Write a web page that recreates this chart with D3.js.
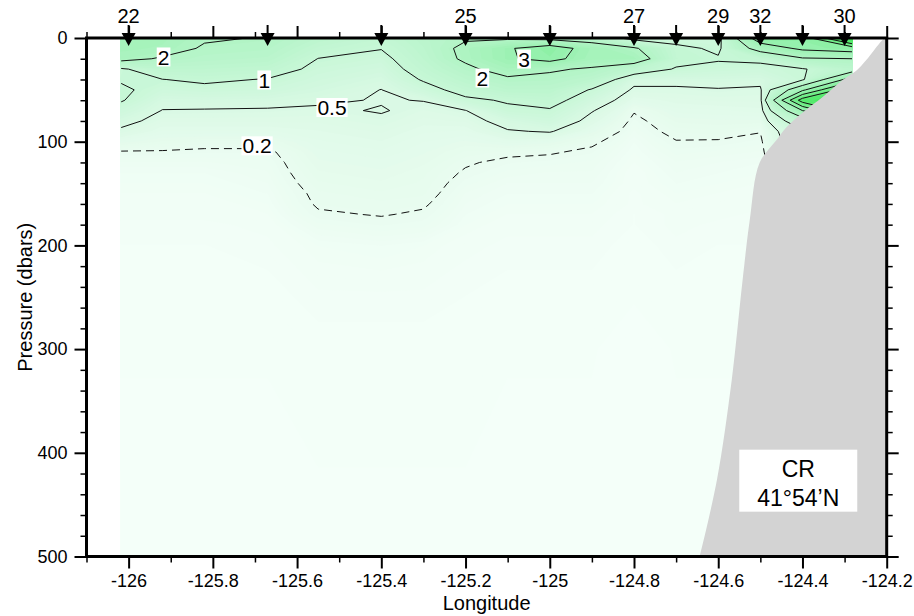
<!DOCTYPE html>
<html>
<head>
<meta charset="utf-8">
<script src="https://cdn.jsdelivr.net/npm/d3@7"></script>
<style>
  body { margin: 0; background: #fff; }
  svg { display: block; }
  text { font-family: "Liberation Sans", Arial, Helvetica, sans-serif; fill: #000; }
</style>
</head>
<body>
<svg id="chart"></svg>
<script>
const w = 914;
const h = 616;

// grid columns (longitude) and rows (pressure, dbar)
const lons = [-126.02, -125.92, -125.82, -125.67, -125.55, -125.4, -125.3, -125.2, -125.1,
              -125.0, -124.9, -124.8, -124.7, -124.6, -124.5, -124.4, -124.28];
const pressures = [0, 10, 20, 30, 40, 50, 60, 70, 80, 90, 100, 110, 120, 130, 140, 150, 160, 170, 180, 200, 250, 300, 500];

// one profile per longitude, top to bottom
const profiles = [
  [2.6, 2.5, 2.3, 0.9, 0.95, 1.1, 1.05, 0.8, 0.6, 0.45, 0.3, 0.19, 0.15, 0.13, 0.12, 0.11, 0.1, 0.1, 0.09, 0.08, 0.07, 0.06, 0.05],
  [2.5, 2.4, 1.9, 1.4, 0.99, 0.8, 0.6, 0.49, 0.4, 0.33, 0.26, 0.19, 0.15, 0.13, 0.12, 0.11, 0.1, 0.1, 0.09, 0.08, 0.07, 0.06, 0.05],
  [2.1, 1.9, 1.7, 1.4, 1.1, 0.85, 0.62, 0.48, 0.4, 0.33, 0.24, 0.18, 0.15, 0.13, 0.12, 0.11, 0.1, 0.1, 0.09, 0.08, 0.07, 0.06, 0.05],
  [1.95, 1.8, 1.6, 1.3, 0.97, 0.8, 0.6, 0.47, 0.4, 0.33, 0.24, 0.18, 0.16, 0.15, 0.14, 0.13, 0.12, 0.11, 0.1, 0.09, 0.07, 0.06, 0.05],
  [1.5, 1.25, 0.99, 0.85, 0.75, 0.65, 0.55, 0.45, 0.4, 0.36, 0.33, 0.3, 0.28, 0.26, 0.24, 0.22, 0.21, 0.19, 0.16, 0.12, 0.09, 0.07, 0.05],
  [1.2, 1.02, 0.85, 0.72, 0.6, 0.495, 0.48, 0.52, 0.45, 0.4, 0.36, 0.33, 0.3, 0.28, 0.26, 0.24, 0.22, 0.205, 0.18, 0.13, 0.09, 0.07, 0.05],
  [1.6, 1.5, 1.4, 1.25, 1.05, 0.8, 0.51, 0.42, 0.38, 0.34, 0.31, 0.29, 0.27, 0.25, 0.24, 0.23, 0.21, 0.19, 0.17, 0.12, 0.09, 0.07, 0.05],
  [1.9, 2.2, 2.15, 1.8, 1.5, 1.2, 0.9, 0.49, 0.4, 0.33, 0.28, 0.24, 0.21, 0.19, 0.17, 0.15, 0.14, 0.13, 0.12, 0.1, 0.08, 0.07, 0.05],
  [1.85, 2.9, 2.9, 2.4, 1.85, 1.5, 1.05, 0.9, 0.6, 0.48, 0.33, 0.22, 0.18, 0.16, 0.14, 0.13, 0.12, 0.11, 0.1, 0.09, 0.07, 0.06, 0.05],
  [1.7, 3.5, 3.3, 2.1, 1.8, 1.5, 1.2, 0.95, 0.75, 0.52, 0.3, 0.21, 0.17, 0.15, 0.14, 0.13, 0.12, 0.11, 0.1, 0.09, 0.07, 0.06, 0.05],
  [1.5, 2.6, 2.5, 1.9, 1.5, 0.95, 0.7, 0.52, 0.4, 0.3, 0.22, 0.18, 0.16, 0.15, 0.14, 0.13, 0.12, 0.11, 0.1, 0.09, 0.07, 0.06, 0.05],
  [0.75, 2.1, 2.5, 1.4, 0.6, 0.45, 0.33, 0.21, 0.17, 0.15, 0.13, 0.12, 0.11, 0.1, 0.1, 0.09, 0.09, 0.08, 0.08, 0.07, 0.06, 0.05, 0.05],
  [0.75, 1.15, 1.2, 0.95, 0.6, 0.45, 0.38, 0.32, 0.27, 0.23, 0.195, 0.17, 0.15, 0.14, 0.13, 0.12, 0.11, 0.1, 0.1, 0.09, 0.07, 0.06, 0.05],
  [0.8, 0.9, 1.05, 0.85, 0.62, 0.48, 0.4, 0.33, 0.28, 0.24, 0.19, 0.16, 0.14, 0.13, 0.12, 0.11, 0.1, 0.1, 0.09, 0.08, 0.07, 0.06, 0.05],
  [3.6, 2.4, 1.15, 0.8, 0.6, 0.45, 0.4, 0.35, 0.28, 0.205, 0.17, 0.15, 0.13, 0.12, 0.11, 0.1, 0.1, 0.09, 0.09, 0.08, 0.07, 0.06, 0.05],
  [3.4, 3.2, 1.9, 0.95, 0.9, 2.8, 5.5, 3.0, 1.5, 0.9, 0.8, 0.7, 0.6, 0.5, 0.45, 0.4, 0.35, 0.3, 0.3, 0.25, 0.2, 0.15, 0.1],
  [7, 3.5, 2.0, 1.5, 3.5, 6, 7, 6, 3, 1.5, 1, 0.8, 0.6, 0.5, 0.45, 0.4, 0.35, 0.3, 0.3, 0.25, 0.2, 0.15, 0.1]
];

const lineLevels = [0.2, 0.5, 1, 2, 3, 4, 5];

const labelText = ["2", "1", "0.5", "0.2", "3", "2"];
const labelLon = [-125.917, -125.678, -125.517, -125.695, -125.061, -125.16];
const labelP = [18.3, 40.5, 67, 104, 20.3, 38.6];

const stationLons = [-126, -125.67, -125.4, -125.2, -125, -124.8, -124.7, -124.6, -124.5, -124.4, -124.3];
const stationNames = ["22", "", "", "25", "", "27", "", "29", "32", "", "30"];

// shelf / slope outline
const coastLon = [-124.205, -124.217, -124.248, -124.271, -124.305, -124.352, -124.40, -124.438,
                  -124.461, -124.502, -124.525, -124.542, -124.568, -124.603, -124.644];
const coastP = [0, 5, 21, 31, 40.5, 57, 72, 86, 98, 120.5, 175, 233, 330, 426, 500];

const xTicks = [-126, -125.8, -125.6, -125.4, -125.2, -125, -124.8, -124.6, -124.4, -124.2];
const xMinor = [-126.1, -125.9, -125.7, -125.5, -125.3, -125.1, -124.9, -124.7, -124.5, -124.3];
const yTicks = [0, 100, 200, 300, 400, 500];
const yMinor = [20, 40, 60, 80, 120, 140, 160, 180, 220, 240, 260, 280, 320, 340, 360, 380, 420, 440, 460, 480];

const colorVals = [0.05, 0.1, 0.2, 0.5, 1, 2, 3, 5, 8];
const colorHex = ["#f4fff9", "#f1fef6", "#e8fcef", "#d8f9e3", "#c6f7d6", "#b0f4c4", "#98f1b0", "#5eea74", "#22e03c"];

const svg = d3.select("#chart").attr("width", w).attr("height", h);

const x = d3.scaleLinear().domain([-126.1, -124.2]).range([86.5, 886.7]);
const y = d3.scaleLinear().domain([0, 500]).range([38, 556.5]);
const color = d3.scaleLinear().domain(colorVals).range(colorHex).clamp(true);

const nx = lons.length, ny = pressures.length;
const grid = [];
for (let j = 0; j < ny; j++) for (let i = 0; i < nx; i++) grid.push(profiles[i][j]);

// grid index -> data coordinates (piecewise, columns are not evenly spaced)
const ix = d3.scaleLinear().domain(d3.range(nx)).range(lons).clamp(true);
const iy = d3.scaleLinear().domain(d3.range(ny)).range(pressures).clamp(true);
const path = d3.geoPath(d3.geoTransform({
  point(px, py) { this.stream.point(x(ix(px - 0.5)), y(iy(py - 0.5))); }
}));

const defs = svg.append("defs");
defs.append("clipPath").attr("id", "plot-clip").append("rect")
  .attr("x", x(-126.1)).attr("y", y(0)).attr("width", x(-124.2) - x(-126.1)).attr("height", y(500) - y(0));
defs.append("clipPath").attr("id", "line-clip").append("rect")
  .attr("x", x(lons[0]) + 1).attr("y", y(0) + 1)
  .attr("width", x(lons[nx - 1]) - x(lons[0]) - 2).attr("height", y(500) - y(0) - 2);

const plot = svg.append("g").attr("clip-path", "url(#plot-clip)");

// shading
const fillLevels = d3.range(0, 1.0001, 1 / 64).map(f => 0.05 * Math.pow(160, f));
plot.append("rect")
  .attr("x", x(lons[0])).attr("y", y(0))
  .attr("width", x(lons[nx - 1]) - x(lons[0])).attr("height", y(500) - y(0))
  .attr("fill", color(0.05));

const contours = d3.contours().size([nx, ny]);
plot.append("g").selectAll("path")
  .data(contours.thresholds(fillLevels)(grid))
  .join("path")
  .attr("d", path)
  .attr("fill", d => color(d.value))
  .attr("fill-rule", "evenodd");

// contour lines
plot.append("g").attr("clip-path", "url(#line-clip)").selectAll("path")
  .data(contours.thresholds(lineLevels)(grid))
  .join("path")
  .attr("d", path)
  .attr("fill", "none")
  .attr("stroke", "#111")
  .attr("stroke-width", 1)
  .attr("stroke-dasharray", d => d.value < 0.3 ? "8,5" : null);

// contour labels
const labels = plot.append("g").selectAll("g")
  .data(labelText)
  .join("g")
  .attr("transform", (d, i) => `translate(${x(labelLon[i])},${y(labelP[i])})`);
labels.append("text")
  .attr("text-anchor", "middle")
  .attr("dy", "0.36em")
  .attr("font-size", 21)
  .text(d => d);
labels.each(function() {
  const g = d3.select(this);
  const tw = g.select("text").node().getComputedTextLength();
  g.insert("rect", "text")
    .attr("x", -tw / 2 - 1).attr("y", -9.5)
    .attr("width", tw + 2).attr("height", 19)
    .attr("fill", "#fff");
});

// bathymetry
const coast = coastLon.map((d, i) => [x(d), y(coastP[i])]);
plot.append("path")
  .attr("d", d3.line().curve(d3.curveCatmullRom)(coast) +
    `L${x(-124.18)},${y(505)}L${x(-124.18)},${y(-5)}Z`)
  .attr("fill", "#d3d3d3");

// axes
function tidy(g, sw) {
  g.select(".domain").remove();
  g.attr("font-family", null).attr("font-size", null);
  g.selectAll(".tick line").attr("stroke", "#000").attr("stroke-width", sw);
  g.selectAll(".tick text").attr("font-size", 18).attr("fill", "#000");
}
const fmt = d => String(d);

svg.append("g").attr("transform", `translate(0,${y(500)})`)
  .call(d3.axisBottom(x).tickValues(xTicks).tickSize(12).tickPadding(6).tickFormat(fmt))
  .call(tidy, 2);
svg.append("g").attr("transform", `translate(0,${y(500)})`)
  .call(d3.axisBottom(x).tickValues(xMinor).tickSize(6).tickFormat(""))
  .call(tidy, 1.5);
svg.append("g").attr("transform", `translate(0,${y(0)})`)
  .call(d3.axisTop(x).tickValues(xTicks).tickSize(12).tickFormat(""))
  .call(tidy, 2);
svg.append("g").attr("transform", `translate(0,${y(0)})`)
  .call(d3.axisTop(x).tickValues(xMinor).tickSize(6).tickFormat(""))
  .call(tidy, 1.5);
svg.append("g").attr("transform", `translate(${x(-126.1)},0)`)
  .call(d3.axisLeft(y).tickValues(yTicks).tickSize(12).tickPadding(7).tickFormat(fmt))
  .call(tidy, 2);
svg.append("g").attr("transform", `translate(${x(-126.1)},0)`)
  .call(d3.axisLeft(y).tickValues(yMinor).tickSize(6).tickFormat(""))
  .call(tidy, 1.5);
svg.append("g").attr("transform", `translate(${x(-124.2)},0)`)
  .call(d3.axisRight(y).tickValues(yTicks).tickSize(12).tickFormat(""))
  .call(tidy, 2);
svg.append("g").attr("transform", `translate(${x(-124.2)},0)`)
  .call(d3.axisRight(y).tickValues(yMinor).tickSize(6).tickFormat(""))
  .call(tidy, 1.5);

svg.append("rect")
  .attr("x", x(-126.1)).attr("y", y(0))
  .attr("width", x(-124.2) - x(-126.1)).attr("height", y(500) - y(0))
  .attr("fill", "none").attr("stroke", "#000").attr("stroke-width", 3);

// station markers
const st = svg.append("g").selectAll("g")
  .data(stationLons)
  .join("g")
  .attr("transform", d => `translate(${x(d)},0)`);
st.append("line").attr("y1", 25).attr("y2", 34).attr("stroke", "#000").attr("stroke-width", 2);
st.append("path").attr("d", "M-7,33L7,33L0,46Z").attr("fill", "#000");
st.append("text")
  .attr("text-anchor", "middle")
  .attr("y", 23)
  .attr("font-size", 20)
  .text((d, i) => stationNames[i]);

// titles
svg.append("text")
  .attr("x", (x(-126.1) + x(-124.2)) / 2).attr("y", 610)
  .attr("text-anchor", "middle").attr("font-size", 20)
  .text("Longitude");
svg.append("text")
  .attr("transform", `translate(32,${(y(0) + y(500)) / 2}) rotate(-90)`)
  .attr("text-anchor", "middle").attr("font-size", 20)
  .text("Pressure (dbars)");

// section name box
const box = svg.append("g").attr("transform", `translate(${x(-124.41)},${y(397)})`);
box.append("rect").attr("x", -59).attr("y", 0).attr("width", 118).attr("height", 62).attr("fill", "#fff");
box.append("text").attr("text-anchor", "middle").attr("y", 27).attr("font-size", 23).text("CR");
box.append("text").attr("text-anchor", "middle").attr("y", 56).attr("font-size", 23).text("41°54’N");
</script>
</body>
</html>
